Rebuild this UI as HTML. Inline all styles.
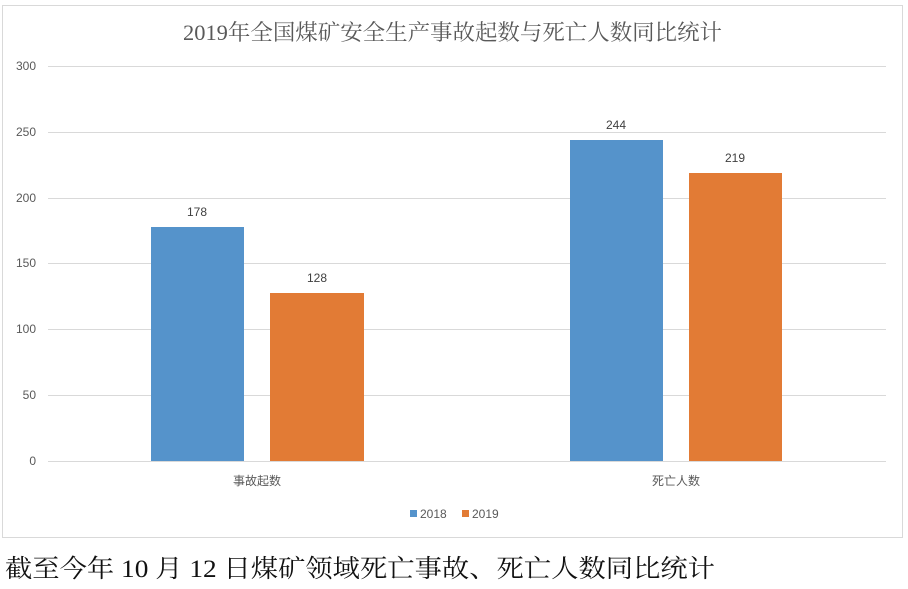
<!DOCTYPE html>
<html><head><meta charset="utf-8"><style>body{margin:0;background:#fff}svg{display:block}</style></head>
<body>
<svg width="908" height="589" xmlns="http://www.w3.org/2000/svg" font-family="Liberation Sans, Noto Sans CJK SC, sans-serif">
<rect x="0" y="0" width="908" height="589" fill="#fff"/>
<rect x="2.5" y="5.5" width="900" height="532" fill="#fff" stroke="#d9d9d9"/>
<text x="183" y="40" font-size="22" fill="#595959" font-family="Liberation Serif, Noto Serif CJK SC, serif" textLength="539" lengthAdjust="spacingAndGlyphs">2019年全国煤矿安全生产事故起数与死亡人数同比统计</text>
<g stroke="#d9d9d9" stroke-width="1">
<line x1="48" x2="886" y1="66.5" y2="66.5"/>
<line x1="48" x2="886" y1="132.5" y2="132.5"/>
<line x1="48" x2="886" y1="198.5" y2="198.5"/>
<line x1="48" x2="886" y1="263.5" y2="263.5"/>
<line x1="48" x2="886" y1="329.5" y2="329.5"/>
<line x1="48" x2="886" y1="395.5" y2="395.5"/>
<line x1="48" x2="886" y1="461.5" y2="461.5"/>
</g>
<g font-size="12" fill="#595959" text-anchor="end">
<text x="36" y="70">300</text><text x="36" y="136">250</text><text x="36" y="202">200</text>
<text x="36" y="267">150</text><text x="36" y="333">100</text><text x="36" y="399">50</text><text x="36" y="465">0</text>
</g>
<rect x="151" y="227" width="93" height="234" fill="#5593cb"/>
<rect x="270" y="293" width="94" height="168" fill="#e27b35"/>
<rect x="570" y="140" width="93" height="321" fill="#5593cb"/>
<rect x="689" y="173" width="93" height="288" fill="#e27b35"/>
<g font-size="12" fill="#404040" text-anchor="middle">
<text x="197" y="216">178</text><text x="317" y="282">128</text>
<text x="616" y="129">244</text><text x="735" y="162">219</text>
<text x="257" y="485" fill="#595959">事故起数</text><text x="676" y="485" fill="#595959">死亡人数</text>
</g>
<rect x="410" y="510" width="7" height="7" fill="#5593cb"/>
<text x="420" y="518" font-size="12" fill="#595959">2018</text>
<rect x="462" y="510" width="7" height="7" fill="#e27b35"/>
<text x="472" y="518" font-size="12" fill="#595959">2019</text>
<text x="5" y="577" font-size="25" fill="#111" font-family="Liberation Serif, Noto Serif CJK SC, serif" textLength="710" lengthAdjust="spacingAndGlyphs">截至今年 10 月 12 日煤矿领域死亡事故、死亡人数同比统计</text>
</svg>
</body></html>
